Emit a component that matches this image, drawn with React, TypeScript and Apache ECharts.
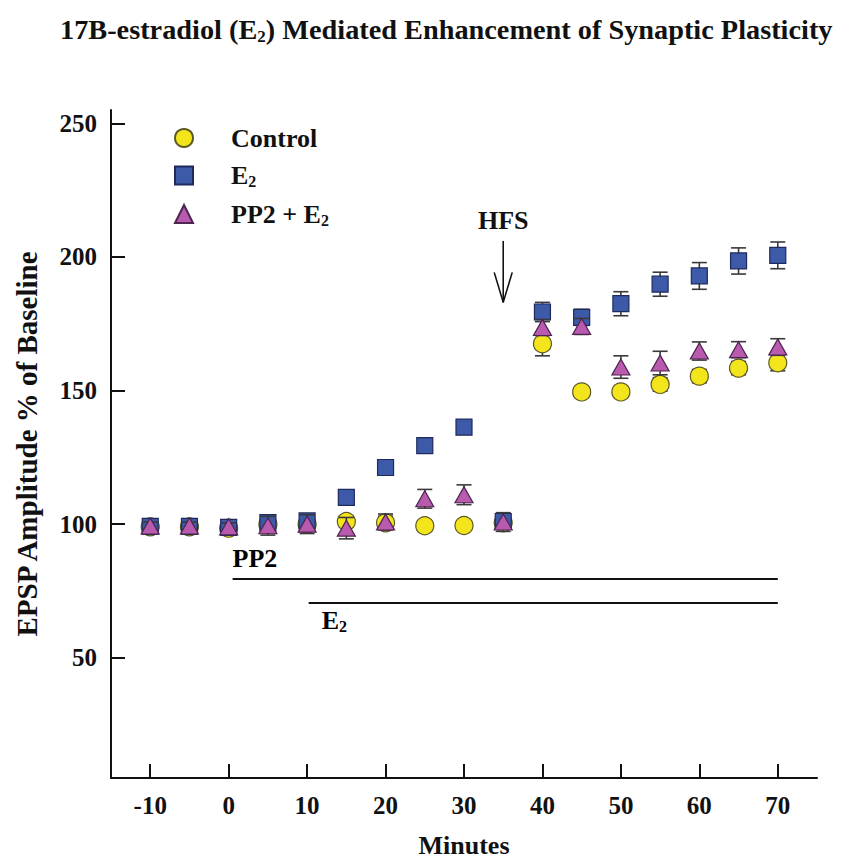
import React, { useEffect, useRef } from "react";
import * as echarts from "echarts";

const minutes = [-10, -5, 0, 5, 10, 15, 20, 25, 30, 35, 40, 45, 50, 55, 60, 65, 70];
const controlMean = [99, 99, 98.5, 100, 100, 101, 100.5, 99.4, 99.5, 100.5, 167.5, 149.5, 149.5, 152.3, 155.4, 158.4, 160.4];
const controlSem = [1.5, 1.5, 1.5, 1.5, 2, 2, 2.5, 1.5, 1.5, 2, 4.5, 2, 2, 2.5, 2.5, 2.5, 3];
const e2Mean = [99.2, 99.2, 98.8, 100.6, 101.2, 110, 121.2, 129.4, 136.3, 101, 179.4, 177.4, 182.5, 189.8, 192.9, 198.5, 200.6];
const e2Sem = [1.5, 1.5, 1.5, 2, 2, 1.5, 1.5, 1.5, 1.5, 2, 3.6, 3, 4.5, 4.5, 5, 4.9, 5];
const pp2E2Mean = [99.3, 99.3, 99, 99.4, 100, 98.5, 100.8, 109.5, 111, 100.8, 173.6, 174, 158.8, 160.3, 164.8, 165.3, 166.3];
const pp2E2Sem = [1.5, 1.5, 1.5, 3.5, 3.5, 4, 3, 3.5, 3.7, 3.5, 3, 3, 4.2, 4.4, 3.4, 3, 3.1];

const xTicks = [-10, 0, 10, 20, 30, 40, 50, 60, 70];
const yTicks = [50, 100, 150, 200, 250];

// drug application bars: [start, end, level]
const drugBars = [
  [0.5, 70, 79.5],
  [10.2, 70, 70.5],
];
const drugLabels = ["{a|PP2}", "{a|E}{s|2}"];
// HFS arrow: [x, top, tip]
const hfsArrow = [35, 206, 183];

const FONT = "'Liberation Serif', 'Times New Roman', serif";
const INK = "#111";

const rich = {
  a: { fontFamily: FONT, fontWeight: "bold", fontSize: 26, lineHeight: 28, color: INK },
  s: { fontFamily: FONT, fontWeight: "bold", fontSize: 16, lineHeight: 16, color: INK, padding: [12, 0, 0, 0] },
};

function errData(mean: number[], sem: number[]) {
  return minutes.map((x, i) => [x, mean[i] - sem[i], mean[i] + sem[i]]);
}

function errRender(params: any, api: any) {
  const x = api.value(0);
  const lo = api.coord([x, api.value(1)]);
  const hi = api.coord([x, api.value(2)]);
  const w = 7.5;
  const style = { stroke: "#3a3a3a", lineWidth: 1.6 };
  return {
    type: "group",
    children: [
      { type: "line", shape: { x1: lo[0], y1: lo[1], x2: hi[0], y2: hi[1] }, style },
      { type: "line", shape: { x1: lo[0] - w, y1: lo[1], x2: lo[0] + w, y2: lo[1] }, style },
      { type: "line", shape: { x1: hi[0] - w, y1: hi[1], x2: hi[0] + w, y2: hi[1] }, style },
    ],
  };
}

export default function App() {
  const ref = useRef<HTMLDivElement>(null);
  useEffect(() => {
    if (!ref.current) return;
    const chart = echarts.init(ref.current, undefined, { renderer: "svg" });
    const axisFont = { fontFamily: FONT, fontWeight: "bold" as const, fontSize: 25, color: INK };
    const option: any = {
      animation: false,
      backgroundColor: "#fff",
      title: {
        text: "{t|17B-estradiol (E}{s|2}{t|) Mediated Enhancement of Synaptic Plasticity}",
        left: 55,
        top: 8,
        textStyle: {
          rich: {
            t: { fontFamily: FONT, fontWeight: "bold", fontSize: 28.3, lineHeight: 32, color: INK },
            s: { fontFamily: FONT, fontWeight: "bold", fontSize: 17, lineHeight: 17, color: INK, padding: [14, 0, 0, 0] },
          },
        },
      },
      legend: {
        data: ["Control", "E2", "PP2 + E2"],
        orient: "vertical",
        left: 169,
        top: 120,
        itemWidth: 18,
        itemHeight: 18,
        itemGap: 10.5,
        formatter: (name: string) => {
          if (name === "E2") return "{a|E}{s|2}";
          if (name === "PP2 + E2") return "{a|PP2 + E}{s|2}";
          return "{a|" + name + "}";
        },
        textStyle: { rich, padding: [0, 0, 0, 33] },
      },
      grid: { left: 111, right: 24, top: 110, bottom: 86, outerBoundsMode: "none" },
      xAxis: {
        type: "value",
        min: -15,
        max: 75,
        name: "Minutes",
        nameLocation: "middle",
        nameGap: 54,
        nameTextStyle: { ...axisFont, fontSize: 26 },
        axisLine: { onZero: false, lineStyle: { color: INK, width: 2 } },
        axisTick: { inside: true, length: 14, customValues: xTicks, lineStyle: { color: INK, width: 2 } },
        axisLabel: { customValues: xTicks, margin: 15, ...axisFont },
        splitLine: { show: false },
      },
      yAxis: {
        type: "value",
        min: 5,
        max: 255,
        name: "EPSP Amplitude % of Baseline",
        nameLocation: "middle",
        nameGap: 70,
        nameTextStyle: { ...axisFont, fontSize: 29 },
        axisLine: { show: true, onZero: false, lineStyle: { color: INK, width: 2 } },
        axisTick: { show: true, inside: true, length: 14, customValues: yTicks, lineStyle: { color: INK, width: 2 } },
        axisLabel: { customValues: yTicks, margin: 14, ...axisFont },
        splitLine: { show: false },
      },
      series: [
        { type: "custom", name: "ctrlErr", renderItem: errRender, data: errData(controlMean, controlSem), encode: { x: 0, y: [1, 2] }, z: 1 },
        { type: "custom", name: "e2Err", renderItem: errRender, data: errData(e2Mean, e2Sem), encode: { x: 0, y: [1, 2] }, z: 3 },
        { type: "custom", name: "pp2Err", renderItem: errRender, data: errData(pp2E2Mean, pp2E2Sem), encode: { x: 0, y: [1, 2] }, z: 5 },
        {
          type: "scatter",
          name: "Control",
          symbol: "circle",
          symbolSize: 18,
          z: 2,
          itemStyle: { color: "#f4e41c", borderColor: "#5c5a22", borderWidth: 1.2, opacity: 1 },
          data: minutes.map((x, i) => [x, controlMean[i]]),
        },
        {
          type: "scatter",
          name: "E2",
          symbol: "rect",
          symbolSize: 16,
          z: 4,
          itemStyle: { color: "#3c5aa8", borderColor: "#1e2a5e", borderWidth: 1.2, opacity: 1 },
          data: minutes.map((x, i) => [x, e2Mean[i]]),
        },
        {
          type: "scatter",
          name: "PP2 + E2",
          symbol: "triangle",
          symbolSize: [18, 16],
          z: 6,
          itemStyle: { color: "#b85aae", borderColor: "#4e2550", borderWidth: 1.2, opacity: 1 },
          data: minutes.map((x, i) => [x, pp2E2Mean[i]]),
        },
        {
          type: "custom",
          name: "drugBars",
          silent: true,
          z: 7,
          data: drugBars,
          encode: { x: [0, 1], y: 2 },
          renderItem: (params: any, api: any) => {
            const a = api.coord([api.value(0), api.value(2)]);
            const b = api.coord([api.value(1), api.value(2)]);
            const first = params.dataIndex === 0;
            return {
              type: "group",
              children: [
                { type: "line", shape: { x1: a[0], y1: a[1], x2: b[0], y2: b[1] }, style: { stroke: INK, lineWidth: 2 } },
                {
                  type: "text",
                  x: first ? a[0] : a[0] + 13,
                  y: first ? a[1] - 6 : a[1] + 4,
                  style: {
                    text: drugLabels[params.dataIndex],
                    rich,
                    align: "left",
                    verticalAlign: first ? "bottom" : "top",
                  },
                },
              ],
            };
          },
        },
        {
          type: "custom",
          name: "HFS",
          silent: true,
          z: 8,
          data: [hfsArrow],
          encode: { x: 0, y: [1, 2] },
          renderItem: (params: any, api: any) => {
            const top = api.coord([api.value(0), api.value(1)]);
            const tip = api.coord([api.value(0), api.value(2)]);
            const st = { stroke: INK, lineWidth: 1.6 };
            return {
              type: "group",
              children: [
                { type: "line", shape: { x1: top[0], y1: top[1], x2: tip[0], y2: tip[1] }, style: st },
                { type: "line", shape: { x1: tip[0] - 9, y1: tip[1] - 30, x2: tip[0], y2: tip[1] }, style: st },
                { type: "line", shape: { x1: tip[0] + 9, y1: tip[1] - 30, x2: tip[0], y2: tip[1] }, style: st },
                {
                  type: "text",
                  x: top[0],
                  y: top[1] - 7,
                  style: { text: "HFS", fontFamily: FONT, fontWeight: "bold", fontSize: 26, fill: INK, align: "center", verticalAlign: "bottom" },
                },
              ],
            };
          },
        },
      ],
    };
    chart.setOption(option);
    return () => chart.dispose();
  }, []);
  return <div ref={ref} style={{ width: 841, height: 864, margin: -8 }} />;
}
